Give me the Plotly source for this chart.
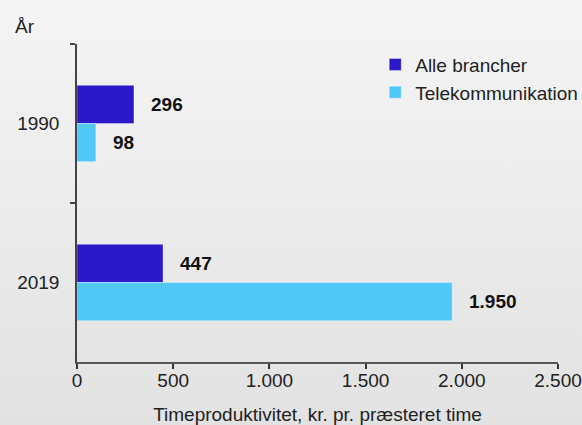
import plotly.graph_objects as go

years = ["1990", "2019"]
alle = [296, 447]
tele = [98, 1950]
series_names = ["Alle brancher", "Telekommunikation"]
colors = ["#2B19C9", "#50C8F8"]
x_ticks = [0, 500, 1000, 1500, 2000, 2500]
x_title = "Timeproduktivitet, kr. pr. præsteret time"
y_title = "År"

FONT = "Liberation Sans, Arial, Helvetica, sans-serif"
TXT = "#222222"
FS = 19

fig = go.Figure()
for name, vals, col in zip(series_names, [alle, tele], colors):
    fig.add_trace(go.Bar(
        y=years, x=vals, name=name, orientation="h",
        marker=dict(color=col, line=dict(color="rgba(255,255,255,0.35)", width=1)),
        hoverinfo="skip",
    ))

def fmt(v):
    return f"{v:,}".replace(",", ".")

for vals, shift in [(alle, 19), (tele, -19)]:
    for i, v in enumerate(vals):
        fig.add_annotation(x=v, y=i, text=f"<b>{fmt(v)}</b>", showarrow=False,
                           xanchor="left", yanchor="middle", xshift=15, yshift=shift,
                           font=dict(family=FONT, size=FS, color="#111111"))

fig.add_annotation(x=-77/481, y=1 + 17/318, xref="paper", yref="paper", text=y_title,
                   showarrow=False, xanchor="left", yanchor="middle",
                   xshift=13, font=dict(family=FONT, size=FS, color=TXT))

svg = ("data:image/svg+xml;utf8,<svg xmlns='http://www.w3.org/2000/svg' width='582' height='425' "
       "preserveAspectRatio='none'><defs><linearGradient id='g' x1='0' y1='0' x2='0' y2='1'>"
       "<stop offset='0' stop-color='%23f5f5f5'/><stop offset='1' stop-color='%23e2e2e2'/>"
       "</linearGradient></defs><rect width='582' height='425' fill='url(%23g)'/></svg>")

fig.update_layout(
    width=582, height=425, autosize=False,
    margin=dict(l=77, r=24, t=44, b=63, autoexpand=False),
    barmode="group", bargap=0.52, bargroupgap=0,
    separators=",.",
    paper_bgcolor="#ebebeb", plot_bgcolor="rgba(0,0,0,0)",
    font=dict(family=FONT, size=FS, color=TXT),
    showlegend=True,
    legend=dict(x=0.62, y=0.995, xanchor="left", yanchor="top", traceorder="normal",
                bgcolor="rgba(0,0,0,0)", font=dict(family=FONT, size=FS, color=TXT),
                tracegroupgap=0),
    images=[dict(source=svg, xref="paper", yref="paper", x=-77/481, y=1 + 44/318,
                 sizex=582/481, sizey=425/318, sizing="stretch", layer="below",
                 xanchor="left", yanchor="top")],
    xaxis=dict(range=[0, 2500], tickvals=x_ticks, tickformat=",d",
               showgrid=False, zeroline=False, showline=True, linecolor="#555555", linewidth=1.5,
               ticks="outside", ticklen=5, tickcolor="#333333", tickwidth=1.5,
               ticklabelstandoff=-5,
               tickfont=dict(family=FONT, size=FS, color=TXT),
               title=dict(text=x_title, font=dict(family=FONT, size=FS, color=TXT), standoff=31),
               automargin=False, fixedrange=True),
    yaxis=dict(type="category", categoryorder="array", categoryarray=years,
               range=[1.5, -0.5], showgrid=False, zeroline=False,
               showline=True, linecolor="#444444", linewidth=1.5,
               ticks="outside", ticklen=5, tickson="boundaries", tickcolor="#444444", tickwidth=1.5,
               ticklabelstandoff=12, automargin=False,
               tickfont=dict(family=FONT, size=FS, color=TXT), fixedrange=True),
)

fig.write_html(
    "out.html",
    config={"displayModeBar": False, "responsive": False},
    post_script=("document.documentElement.style.overflow='hidden';"
                 "document.body.style.overflow='hidden';"
                 "document.body.style.margin='0';"),
)
